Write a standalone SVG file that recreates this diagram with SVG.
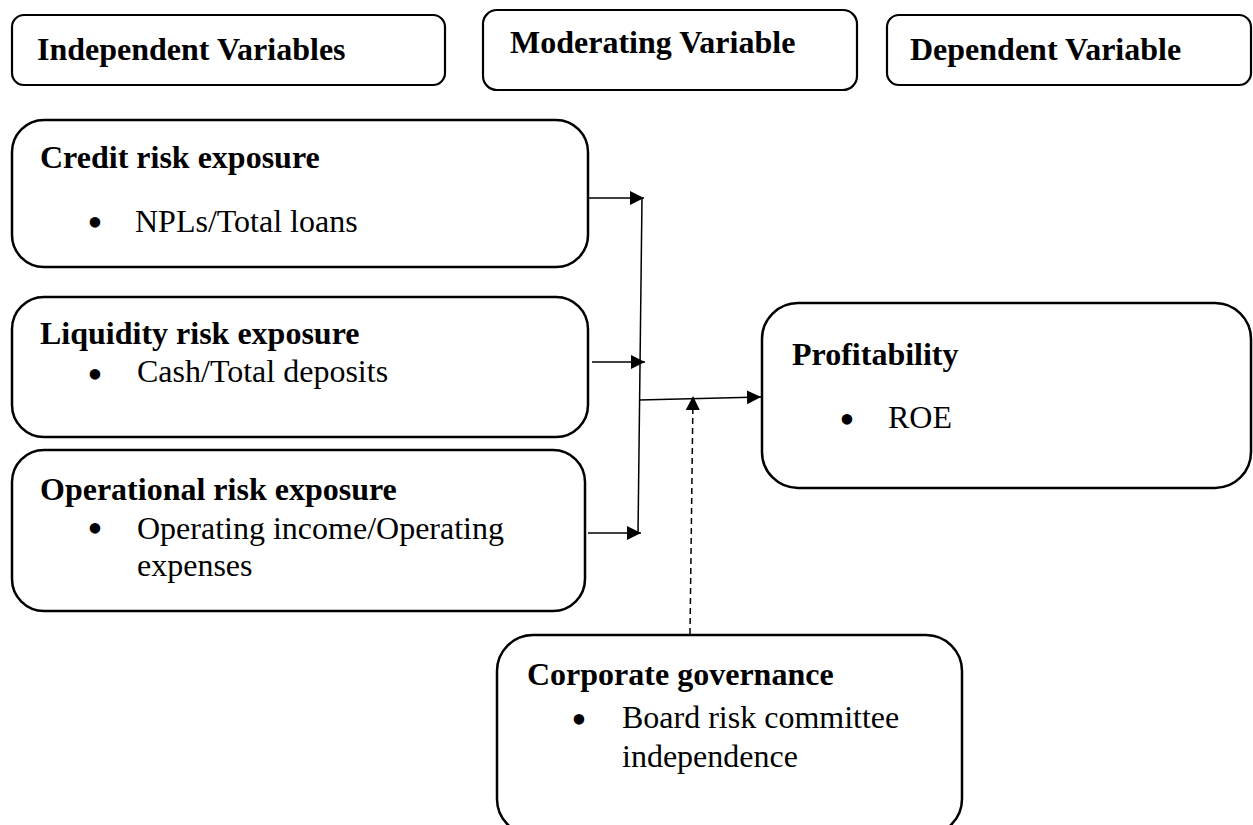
<svg xmlns="http://www.w3.org/2000/svg" width="1253" height="825" viewBox="0 0 1253 825">
  <style>
    .box { fill: #ffffff; stroke: #000000; stroke-width: 2.5; }
    .hbox { fill: #ffffff; stroke: #000000; stroke-width: 2.2; }
    .hd { font-family: "Liberation Serif", "Times New Roman", serif; font-weight: bold; font-size: 32px; fill: #000; }
    .tt { font-family: "Liberation Serif", "Times New Roman", serif; font-weight: bold; font-size: 32px; fill: #000; }
    .it { font-family: "Liberation Serif", "Times New Roman", serif; font-size: 32px; fill: #000; }
    .bl { font-family: "Liberation Serif", "Times New Roman", serif; font-size: 44px; fill: #000; text-anchor: middle; }
    .ln { fill: none; stroke: #000; stroke-width: 1.5; }
    .dash { fill: none; stroke: #000; stroke-width: 1.5; stroke-dasharray: 6 4; }
  </style>
  <defs>
    <marker id="arr" markerUnits="userSpaceOnUse" markerWidth="15" markerHeight="15" refX="14" refY="7" orient="auto">
      <path d="M0,0 L14,7 L0,14 Z" fill="#000"/>
    </marker>
  </defs>
  <rect width="1253" height="825" fill="#ffffff"/>

  <g id="hdr-independent">
    <rect class="hbox" x="12" y="15" width="433" height="70" rx="12"/>
    <text class="hd" x="37" y="60">Independent Variables</text>
  </g>
  <g id="hdr-moderating">
    <rect class="hbox" x="483" y="10" width="374" height="80" rx="14"/>
    <text class="hd" x="510" y="53">Moderating Variable</text>
  </g>
  <g id="hdr-dependent">
    <rect class="hbox" x="887" y="15" width="364" height="70" rx="12"/>
    <text class="hd" x="910" y="60">Dependent Variable</text>
  </g>

  <g id="credit">
    <rect class="box" x="12" y="120" width="576" height="147" rx="32"/>
    <text class="tt" x="40" y="168">Credit risk exposure</text>
    <text class="bl" x="95" y="237">•</text>
    <text class="it" x="135" y="232">NPLs/Total loans</text>
  </g>

  <g id="liquidity">
    <rect class="box" x="12" y="297" width="576" height="140" rx="32"/>
    <text class="tt" x="40" y="344">Liquidity risk exposure</text>
    <text class="bl" x="95" y="389">•</text>
    <text class="it" x="137" y="382">Cash/Total deposits</text>
  </g>

  <g id="operational">
    <rect class="box" x="12" y="450" width="573" height="161" rx="32"/>
    <text class="tt" x="40" y="500">Operational risk exposure</text>
    <text class="bl" x="95" y="543">•</text>
    <text class="it" x="137" y="539">Operating income/Operating</text>
    <text class="it" x="137" y="576">expenses</text>
  </g>

  <g id="profitability">
    <rect class="box" x="762" y="303" width="489" height="185" rx="36"/>
    <text class="tt" x="792" y="365">Profitability</text>
    <text class="bl" x="847" y="434">•</text>
    <text class="it" x="888" y="428">ROE</text>
  </g>

  <g id="governance">
    <rect class="box" x="497" y="635" width="465" height="200" rx="36"/>
    <text class="tt" x="527" y="685">Corporate governance</text>
    <text class="bl" x="579" y="734">•</text>
    <text class="it" x="622" y="728">Board risk committee</text>
    <text class="it" x="622" y="767">independence</text>
  </g>

  <g id="connectors">
    <line class="ln" x1="588" y1="198" x2="644" y2="198" marker-end="url(#arr)"/>
    <line class="ln" x1="592" y1="362" x2="645" y2="362" marker-end="url(#arr)"/>
    <line class="ln" x1="588" y1="533" x2="641" y2="533" marker-end="url(#arr)"/>
    <line class="ln" x1="642" y1="198" x2="638" y2="534"/>
    <line class="ln" x1="639" y1="400" x2="761" y2="397" marker-end="url(#arr)"/>
    <line class="dash" x1="690" y1="634" x2="693" y2="396" marker-end="url(#arr)"/>
  </g>
</svg>
